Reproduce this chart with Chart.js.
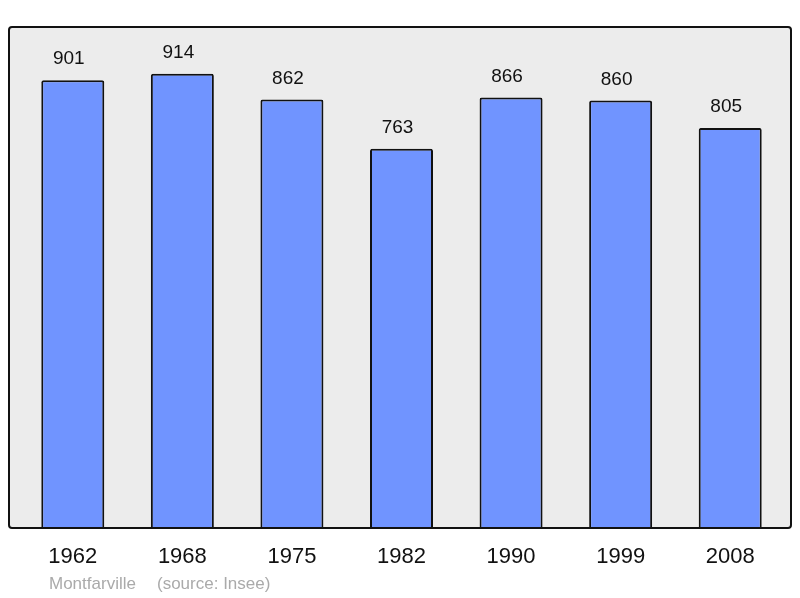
<!DOCTYPE html>
<html>
<head>
<meta charset="utf-8">
<script src="https://cdn.jsdelivr.net/npm/chart.js@4"></script>
<style>
  html, body { margin: 0; padding: 0; background: #fff; }
  #wrap { width: 800px; height: 598px; }
</style>
</head>
<body>
<div id="wrap"><canvas id="myChart" width="800" height="598"></canvas></div>
<script>
// 年份 / 人口
var years = ["1962", "1968", "1975", "1982", "1990", "1999", "2008"];
var population = [901, 914, 862, 763, 866, 860, 805];
var townName = "Montfarville";
var sourceText = "(source: Insee)";

// 灰底 + 外框 + 柱上數字 + 來源
var decoPlugin = {
  id: 'deco',
  beforeDraw: function (chart) {
    var ctx = chart.ctx, a = chart.chartArea;
    var x0 = a.left - 9, y0 = a.top - 4, x1 = a.right + 6, y1 = a.bottom;
    ctx.save();
    ctx.beginPath();
    ctx.roundRect(x0, y0, x1 - x0, y1 - y0, 3);
    ctx.fillStyle = '#ececec';
    ctx.fill();
    ctx.restore();
  },
  afterDatasetsDraw: function (chart) {
    var ctx = chart.ctx, a = chart.chartArea;
    var x0 = a.left - 9, y0 = a.top - 4, x1 = a.right + 6, y1 = a.bottom;
    ctx.save();
    ctx.beginPath();
    ctx.roundRect(x0, y0, x1 - x0, y1 - y0, 3);
    ctx.lineWidth = 2;
    ctx.strokeStyle = '#111';
    ctx.stroke();

    ctx.fillStyle = '#111';
    ctx.font = '19px "Liberation Sans", Arial, sans-serif';
    ctx.textAlign = 'center';
    ctx.textBaseline = 'middle';
    chart.getDatasetMeta(0).data.forEach(function (bar, i) {
      ctx.fillText(population[i], bar.x - 4, bar.y - 21);
    });

    ctx.fillStyle = '#aaaaaa';
    ctx.font = '17px "Liberation Sans", Arial, sans-serif';
    ctx.textAlign = 'left';
    ctx.fillText(townName, 49, 584);
    ctx.fillText(sourceText, 157, 584);
    ctx.restore();
  }
};

var myChart = new Chart(document.getElementById('myChart').getContext('2d'), {
  type: 'bar',
  data: {
    labels: years,
    datasets: [{
      data: population,
      backgroundColor: '#7094ff',
      borderColor: '#111',
      borderWidth: 2,
      borderRadius: 2,
      borderSkipped: 'bottom',
      barPercentage: 0.575,
      categoryPercentage: 1
    }]
  },
  options: {
    responsive: false,
    animation: false,
    layout: { padding: { top: 31, left: 18, right: 15, bottom: 0 } },
    plugins: { legend: { display: false }, tooltip: { enabled: false } },
    scales: {
      x: {
        grid: { display: false, drawTicks: false },
        border: { display: false },
        ticks: {
          color: '#111',
          padding: 16,
          font: { family: '"Liberation Sans", Arial, sans-serif', size: 22 }
        },
        afterFit: function (s) { s.height = 70; }
      },
      y: {
        display: false,
        min: 0,
        max: 1000
      }
    }
  },
  plugins: [decoPlugin]
});
</script>
</body>
</html>
